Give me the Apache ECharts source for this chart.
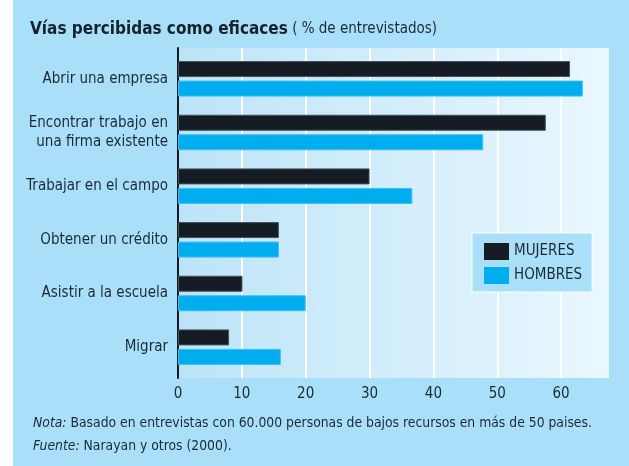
<!DOCTYPE html>
<html>
<head>
<meta charset="utf-8">
<script src="https://cdn.jsdelivr.net/npm/echarts@6/dist/echarts.min.js"></script>
<style>
    html, body { margin: 0; padding: 0; background: #fff; }
    #chart { width: 629px; height: 466px; }
</style>
</head>
<body>
<div id="chart"></div>
<script>
// datos
var categorias = ['Abrir una empresa', 'Encontrar trabajo en\nuna firma existente', 'Trabajar en el campo',
    'Obtener un crédito', 'Asistir a la escuela', 'Migrar'];
var mujeres = [61.4, 57.6, 30.0, 15.8, 10.1, 8.0];
var hombres = [63.4, 47.8, 36.7, 15.8, 20.0, 16.1];
var ejeMax = 67.5;
var ejeIntervalo = 10;

var fuente = '"Liberation Sans Narrow", "DejaVu Sans Condensed", sans-serif';
var texto = '#1c2a35';

var myChart = echarts.init(document.getElementById('chart'));

myChart.setOption({
    backgroundColor: '#a9dff9',
    animation: false,
    textStyle: { fontFamily: fuente },
    graphic: [{
        // franja blanca a la izquierda
        type: 'rect', left: 0, top: 0,
        shape: { width: 13, height: 466 },
        style: { fill: '#ffffff' }
    }],
    title: [{
        left: 30, top: 21, padding: 0,
        text: '{b|Vías percibidas como eficaces}{n| ( % de entrevistados)}',
        textStyle: {
            rich: {
                b: { fontFamily: fuente, fontWeight: 'bold', fontSize: 17, color: '#16222c' },
                n: { fontFamily: fuente, fontWeight: 'normal', fontSize: 15, color: texto }
            }
        }
    }, {
        left: 33, top: 412, padding: 0,
        text: '{i|Nota:} Basado en entrevistas con 60.000 personas de bajos recursos en más de 50 paises.\n{i|Fuente:} Narayan y otros (2000).',
        textStyle: {
            fontFamily: fuente, fontSize: 13.8, fontWeight: 'normal', color: texto, lineHeight: 23,
            rich: {
                i: { fontFamily: fuente, fontSize: 13.8, fontStyle: 'italic', color: texto, lineHeight: 23 }
            }
        }
    }],
    legend: {
        orient: 'vertical',
        left: 472, top: 233,
        padding: [10, 10, 8, 12],
        icon: 'rect',
        itemWidth: 25, itemHeight: 17, itemGap: 7,
        backgroundColor: '#a9dff9',
        borderColor: '#ffffff', borderWidth: 1,
        textStyle: { fontFamily: fuente, fontSize: 15, color: texto },
        data: [
            { name: 'MUJERES', itemStyle: { color: '#151c23', borderWidth: 0 } },
            { name: 'HOMBRES', itemStyle: { color: '#00adef', borderWidth: 0 } }
        ]
    },
    grid: [{
        // fondo, lineas blancas y eje
        left: 178, right: 20, top: 48, bottom: 88,
        show: true, borderWidth: 0,
        backgroundColor: new echarts.graphic.LinearGradient(0, 0, 1, 0, [
            { offset: 0, color: '#bce4f8' },
            { offset: 1, color: '#eaf7fe' }
        ])
    }, {
        // barras
        left: 178, right: 20, top: 52, bottom: 92
    }],
    xAxis: [{
        gridIndex: 0, type: 'value',
        min: 0, max: ejeMax, interval: ejeIntervalo,
        axisLine: { show: false },
        axisTick: { show: false },
        axisLabel: { fontFamily: fuente, fontSize: 15, color: texto, margin: 9, showMaxLabel: false },
        splitLine: { show: true, showMinLine: false, showMaxLine: false, lineStyle: { color: '#ffffff', width: 2 } }
    }, {
        gridIndex: 1, type: 'value',
        min: 0, max: ejeMax, interval: ejeIntervalo,
        show: false
    }],
    yAxis: [{
        gridIndex: 0, type: 'value',
        axisLine: { show: true, lineStyle: { color: '#151c23', width: 2 } },
        axisTick: { show: false },
        axisLabel: { show: false },
        splitLine: { show: false }
    }, {
        gridIndex: 1, type: 'category',
        inverse: true,
        data: categorias,
        axisLine: { show: false },
        axisTick: { show: false },
        axisLabel: { fontFamily: fuente, fontSize: 15, color: texto, margin: 10, lineHeight: 19, align: 'right' }
    }],
    series: [{
        name: 'MUJERES', type: 'bar',
        xAxisIndex: 1, yAxisIndex: 1,
        data: mujeres,
        barWidth: 16, barGap: '22%',
        itemStyle: { color: '#151c23', borderColor: '#46515b', borderWidth: 1 }
    }, {
        name: 'HOMBRES', type: 'bar',
        xAxisIndex: 1, yAxisIndex: 1,
        data: hombres,
        barWidth: 16, barGap: '22%',
        itemStyle: { color: '#00adef', borderColor: '#3dbff2', borderWidth: 1 }
    }]
});
</script>
</body>
</html>
